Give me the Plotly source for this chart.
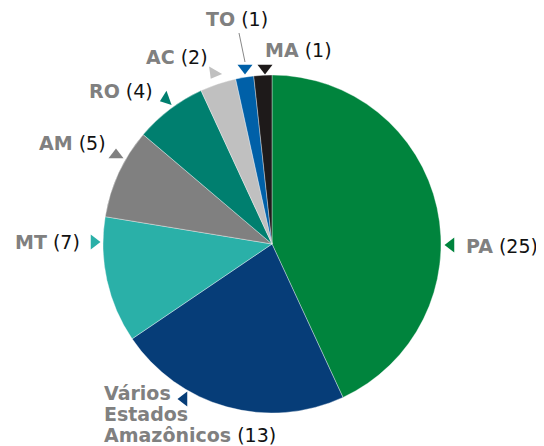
import plotly.graph_objects as go

W, H = 544, 446
OFF = 8  # browser body margin

states = ["PA", "Vários Estados Amazônicos", "MT", "AM", "RO", "AC", "TO", "MA"]
counts = [25, 13, 7, 5, 4, 2, 1, 1]
colors = ["#00843D", "#063D78", "#2AB0A8", "#808080", "#007F6F", "#C0C0C0", "#0060A8", "#1E1A1A"]
label_lines = [["PA"], ["Vários", "Estados", "Amazônicos"], ["MT"], ["AM"], ["RO"], ["AC"], ["TO"], ["MA"]]

cx, cy, r = 272 - OFF, 244 - OFF, 169

fig = go.Figure(go.Pie(
    labels=states, values=counts, sort=False, direction="clockwise", rotation=0,
    marker=dict(colors=colors, line=dict(color="rgba(255,255,255,0.6)", width=0.6)),
    textinfo="none", hoverinfo="label+value", showlegend=False,
    domain=dict(x=[(cx - r) / W, (cx + r) / W], y=[(H - cy - r) / H, (H - cy + r) / H]),
))

def px(x, y):
    return (x - OFF) / W, 1 - (y - OFF) / H

FONT = "DejaVu Sans, Verdana, sans-serif"
GRAY = "#808080"
LINE_H = 21

# (index, text x, first line y, tri symbol, tri x, tri y, tri angle)
placements = [
    (0, 464, 246, "triangle-left", 451, 245, 0),
    (1, 102, 393, "triangle-left", 184, 399, 0),
    (2, 13, 242, "triangle-right", 94, 242, 0),
    (3, 37, 143, "triangle-up", 116, 155, 0),
    (4, 87, 91, "triangle-left", 166, 99, -20),
    (5, 144, 57, "triangle-down", 214, 73, 30),
    (6, 204, 19, "triangle-down", 245, 68, 0),
    (7, 263, 50, "triangle-down", 265, 68, 0),
]

annotations = []
tri_x, tri_y, tri_sym, tri_ang, tri_col = [], [], [], [], []
for i, tx, ty, sym, trx, tryy, ang in placements:
    lines = label_lines[i]
    for k, name in enumerate(lines):
        txt = f"<b>{name}</b>"
        if k == len(lines) - 1:
            txt += f" <span style='color:#111'>({counts[i]})</span>"
        x, y = px(tx, ty + k * LINE_H)
        annotations.append(dict(
            x=x, y=y, xref="paper", yref="paper", xanchor="left", yanchor="middle",
            text=txt, showarrow=False, align="left",
            font=dict(family=FONT, size=19, color=GRAY),
        ))
    tri_x.append(trx); tri_y.append(tryy); tri_sym.append(sym)
    tri_ang.append(ang); tri_col.append(colors[i])

fig.add_trace(go.Scatter(
    x=tri_x, y=tri_y, mode="markers", hoverinfo="skip", showlegend=False,
    marker=dict(symbol=tri_sym, angle=tri_ang, color=tri_col, size=13, line=dict(width=0)),
))

x0, y0 = px(239, 33)
x1, y1 = px(245, 62)
shapes = [dict(type="line", xref="paper", yref="paper", x0=x0, y0=y0, x1=x1, y1=y1,
               line=dict(color="#888888", width=1))]

fig.update_layout(
    width=W, height=H, margin=dict(l=0, r=0, t=0, b=0),
    paper_bgcolor="white", plot_bgcolor="rgba(0,0,0,0)",
    xaxis=dict(range=[OFF, W + OFF], visible=False, fixedrange=True),
    yaxis=dict(range=[H + OFF, OFF], visible=False, fixedrange=True),
    annotations=annotations, shapes=shapes,
)

fig.write_html("out.html")
